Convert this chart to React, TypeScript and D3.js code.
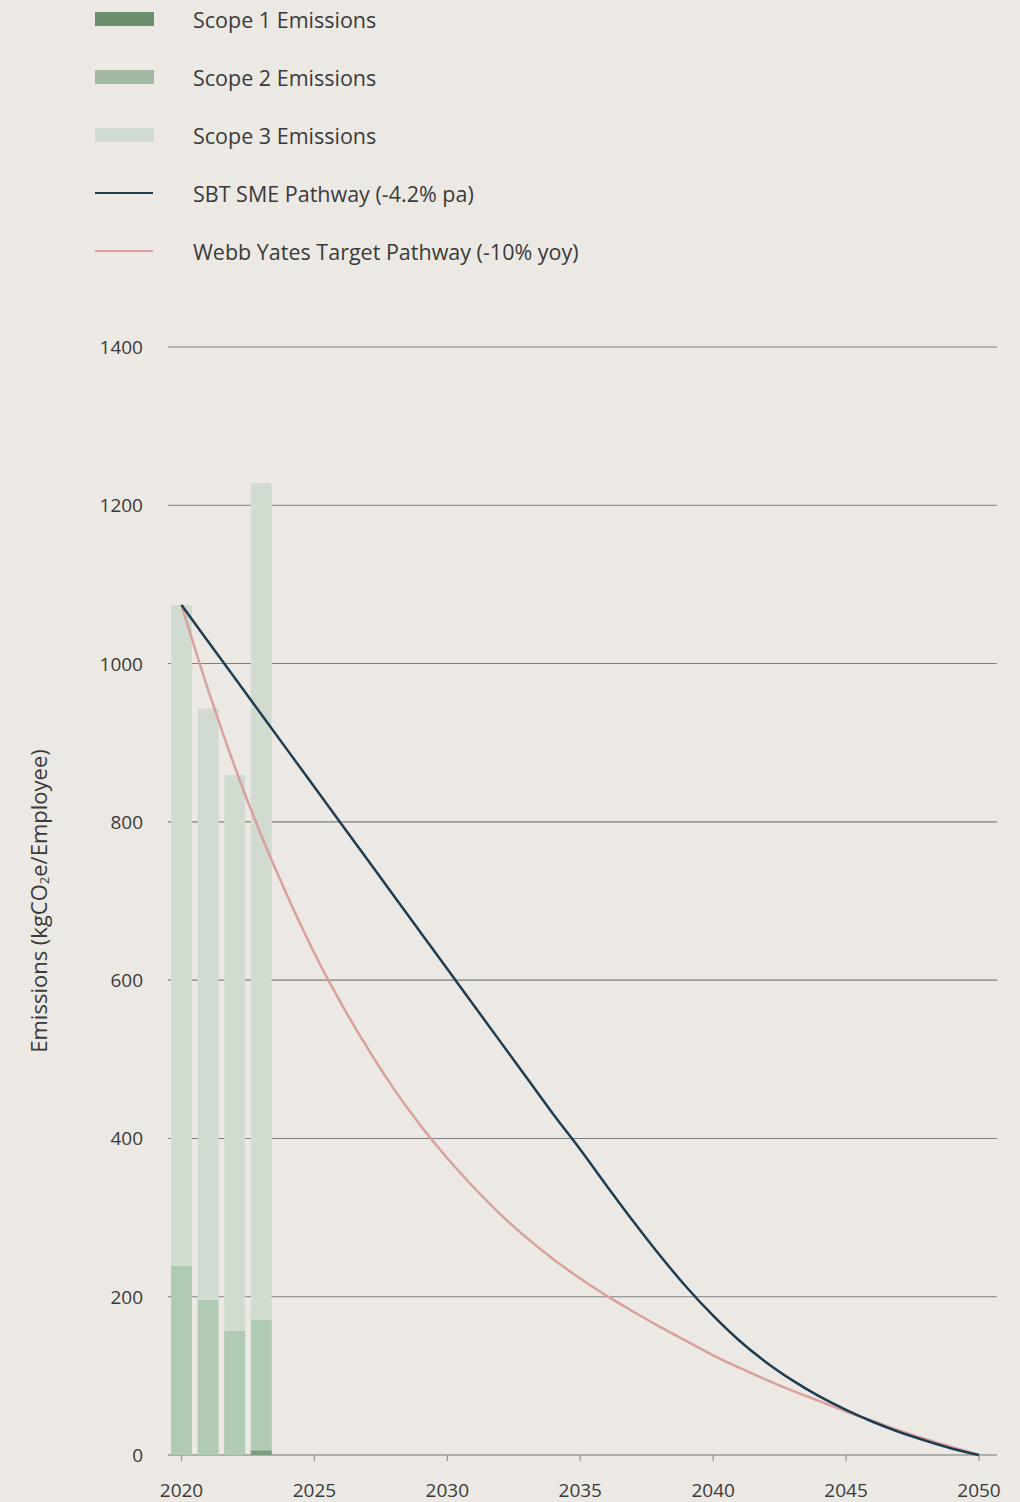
import { useMemo } from 'react';
import * as d3 from 'd3';

// Bar data (kgCO2e per employee)
const barYears = [2020, 2021, 2022, 2023];
const scope1 = [0, 0, 0, 6];
const scope2 = [239, 196, 157, 165];
const scope3 = [835, 747, 702, 1057];

// Pathways, yearly
const pathYears = [
  2020, 2021, 2022, 2023, 2024, 2025, 2026, 2027, 2028, 2029, 2030, 2031, 2032, 2033, 2034, 2035,
  2036, 2037, 2038, 2039, 2040, 2041, 2042, 2043, 2044, 2045, 2046, 2047, 2048, 2049, 2050,
];
const sbtPathway = [
  1074, 1028, 982, 936, 890, 844, 798, 752, 706, 660, 614, 568, 522, 476, 430, 386,
  340, 295, 252, 212, 176, 144, 117, 94, 74, 57, 42, 29, 18, 8, 0,
];
const webbYatesPathway = [
  1074, 967, 870, 783, 705, 634, 571, 514, 462, 416, 375, 338, 304, 274, 247, 223,
  201, 181, 162, 144, 126, 110, 95, 81, 68, 55, 43, 31, 20, 10, 0,
];

const yTicks = [0, 200, 400, 600, 800, 1000, 1200, 1400];
const xTicks = [2020, 2025, 2030, 2035, 2040, 2045, 2050];

const COLORS = {
  bg: '#ECE9E4',
  text: '#3A3A3A',
  grid: '#7F7F7F',
  scope1: '#7B9C7E',
  scope2: '#B0CAB3',
  scope3: '#D1DBD0',
  sbt: '#1F3D52',
  webb: '#D9A19D',
};

const legendItems = [
  { label: 'Scope 1 Emissions', kind: 'bar', color: '#6B8F6D' },
  { label: 'Scope 2 Emissions', kind: 'bar', color: '#A3B8A0' },
  { label: 'Scope 3 Emissions', kind: 'bar', color: '#D2DBD0' },
  { label: 'SBT SME Pathway (-4.2% pa)', kind: 'line', color: COLORS.sbt },
  { label: 'Webb Yates Target Pathway (-10% yoy)', kind: 'line', color: COLORS.webb },
];

const FONT = '"Open Sans", Lato, sans-serif';

export default function App() {
  const width = 1020;
  const height = 1502;
  const gridLeft = 168;
  const gridRight = 997;

  const x = useMemo(() => d3.scaleLinear().domain([2020, 2050]).range([181.5, 979]), []);
  const y = useMemo(() => d3.scaleLinear().domain([0, 1400]).range([1455, 347]), []);
  const barW = (x(2021) - x(2020)) * 0.79;

  const stacked = barYears.map((yr, i) => {
    const parts = [scope1[i], scope2[i], scope3[i]];
    let acc = 0;
    return parts.map((v, k) => {
      const y0 = acc;
      acc += v;
      return { yr, k, y0, y1: acc };
    });
  });
  const barColors = [COLORS.scope1, COLORS.scope2, COLORS.scope3];

  const line = d3
    .line<number>()
    .x((_, i) => x(pathYears[i]))
    .y((d) => y(d))
    .curve(d3.curveMonotoneX);

  return (
    <div style={{ position: 'absolute', left: 0, top: 0, width, height, background: COLORS.bg }}>
      <svg width={width} height={height} style={{ display: 'block', fontFamily: FONT }}>
        <rect width={width} height={height} fill={COLORS.bg} />

        {/* Legend */}
        {legendItems.map((item, i) => {
          const cy = 19 + i * 58;
          return (
            <g key={item.label}>
              {item.kind === 'bar' ? (
                <rect x={95} y={cy - 7} width={59} height={14} fill={item.color} />
              ) : (
                <line x1={95} x2={153} y1={cy} y2={cy} stroke={item.color} strokeWidth={2} />
              )}
              <text x={193} y={cy} dominantBaseline="central" fontSize={21.5} fill={COLORS.text}>
                {item.label}
              </text>
            </g>
          );
        })}

        {/* Grid + y labels */}
        {yTicks.map((t) => (
          <g key={t}>
            <line
              x1={gridLeft}
              x2={gridRight}
              y1={y(t)}
              y2={y(t)}
              stroke={t === 0 ? '#9A9A9A' : COLORS.grid}
              strokeWidth={t === 0 ? 1.6 : 1.1}
            />
            <text
              x={143}
              y={y(t)}
              textAnchor="end"
              dominantBaseline="central"
              fontSize={19}
              fill={COLORS.text}
            >
              {t}
            </text>
          </g>
        ))}

        {/* x ticks */}
        {xTicks.map((t) => (
          <g key={t}>
            <line x1={x(t)} x2={x(t)} y1={y(0)} y2={y(0) + 6} stroke="#9A9A9A" strokeWidth={1.3} />
            <text
              x={x(t)}
              y={1490}
              textAnchor="middle"
              dominantBaseline="central"
              fontSize={19}
              fill={COLORS.text}
            >
              {t}
            </text>
          </g>
        ))}

        {/* Stacked bars */}
        {stacked.map((parts) =>
          parts
            .filter((p) => p.y1 > p.y0)
            .map((p) => (
              <rect
                key={`${p.yr}-${p.k}`}
                x={x(p.yr) - barW / 2}
                y={y(p.y1)}
                width={barW}
                height={y(p.y0) - y(p.y1)}
                fill={barColors[p.k]}
              />
            ))
        )}

        {/* Pathways */}
        <path d={line(webbYatesPathway) || ''} fill="none" stroke={COLORS.webb} strokeWidth={2.5} />
        <path d={line(sbtPathway) || ''} fill="none" stroke={COLORS.sbt} strokeWidth={2.5} />

        {/* y axis title */}
        <text
          transform={`translate(38, 901) rotate(-90)`}
          textAnchor="middle"
          dominantBaseline="central"
          fontSize={22}
          fill={COLORS.text}
        >
          Emissions (kgCO
          <tspan fontSize={13} dy={6}>
            2
          </tspan>
          <tspan dy={-6}>e/Employee)</tspan>
        </text>
      </svg>
    </div>
  );
}
